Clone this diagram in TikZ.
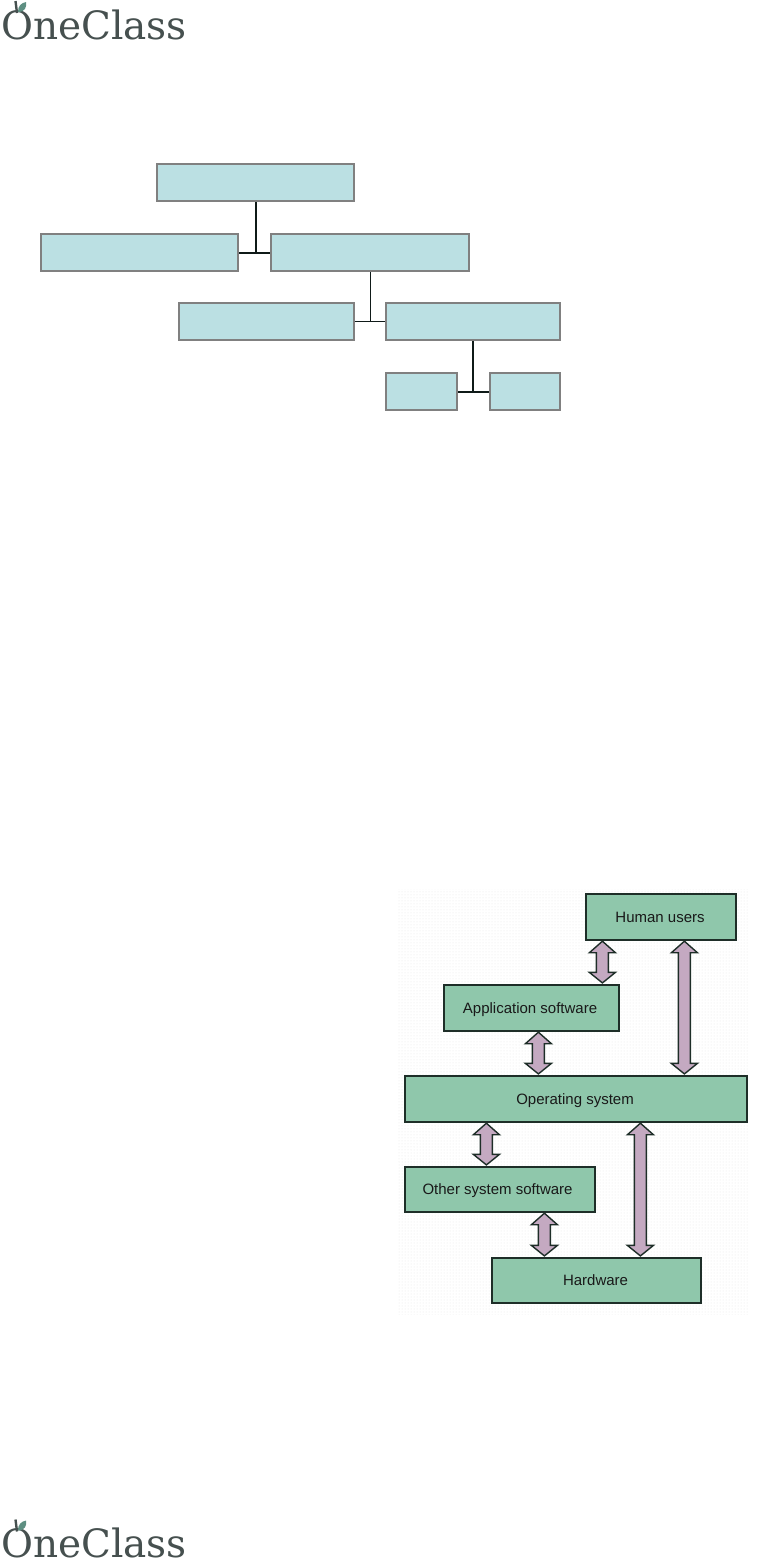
\documentclass[tikz,border=0pt]{standalone}
\usepackage{fontspec}
\setmainfont{Liberation Sans}
\newfontfamily\logofont{DejaVu Serif}
\usetikzlibrary{patterns,calc}
\definecolor{bluefill}{HTML}{BBE0E3}
\definecolor{blueedge}{HTML}{808080}
\definecolor{linkdark}{HTML}{0F1A18}
\definecolor{greenfill}{HTML}{8FC7AB}
\definecolor{greenedge}{HTML}{1E2E28}
\definecolor{mauve}{HTML}{C4A9C1}
\definecolor{logogrey}{HTML}{46504F}
\definecolor{logoleaf}{HTML}{5E8F82}
\tikzset{
  x=1pt,y=-1pt,
  bluebox/.style={draw=blueedge,fill=bluefill,line width=1.8pt,inner sep=0pt},
  greenbox/.style={draw=greenedge,fill=greenfill,line width=1.3pt,inner sep=0pt,text=black!90,text height=11pt,text depth=1pt,font=\fontsize{15}{16}\selectfont},
  heavylink/.style={draw=linkdark,line width=2pt},
  thinlink/.style={draw=linkdark,line width=1pt},
  bigarrow/.style={draw=greenedge,fill=mauve,line width=1.4pt,line join=miter},
  applogo/.pic={
    \node[anchor=base west,inner sep=0pt,text=logogrey,font=\fontsize{39}{40}\logofont] (word) at (1,39) {OneClass};
    \fill[logoleaf] (18,12) .. controls (18,6) and (21,3) .. (26,2) .. controls (27,7) and (25,12) .. (18,12) -- cycle;
    \draw[logogrey,line width=2.4pt] (15.5,1) -- (17,13);
  }
}
\newcommand{\boxat}[7]{\node[#1,minimum width=#6-#4,minimum height=#7-#5,anchor=north west] (#2) at (#4,#5) {#3};}
\newcommand{\duplex}[3]{%
  \draw[bigarrow] let \p1=(#2.south),\p2=(#3.north) in
    (#1,\y1-0.5pt) -- (#1+13,\y1-12pt) -- (#1+6,\y1-12pt) -- (#1+6,\y2+12pt) -- (#1+13,\y2+12pt)
    -- (#1,\y2+1.5pt) -- (#1-13,\y2+12pt) -- (#1-6,\y2+12pt) -- (#1-6,\y1-12pt) -- (#1-13,\y1-12pt) -- cycle;}
\begin{document}
\begin{tikzpicture}
\useasboundingbox (0,0) rectangle (756,1561);
\pic (top) at (0,0) {applogo};
\pic (bottom) at (0,1518.5) {applogo};
\begin{scope}[xshift=-0.6pt,yshift=0.6pt]
% first figure
\boxat{bluebox}{a}{}{156.5}{164}{354}{201}
\boxat{bluebox}{b}{}{40.5}{234}{238}{271}
\boxat{bluebox}{c}{}{271}{234}{468.5}{271}
\boxat{bluebox}{d}{}{179}{303}{353.5}{340}
\boxat{bluebox}{e}{}{385.5}{303}{560}{340}
\boxat{bluebox}{f}{}{385.5}{373}{457}{410}
\boxat{bluebox}{g}{}{489.5}{373}{560}{410}
\draw[heavylink] (a.south) -- (a.south |- b.east);
\draw[heavylink] (b.east) -- (c.west);
\draw[thinlink] (c.south) -- (c.south |- d.east);
\draw[thinlink] (d.east) -- (e.west);
\draw[heavylink] (e.south) -- (e.south |- f.east);
\draw[heavylink] (f.east) -- (g.west);
% second figure
\fill[pattern=dots,pattern color=black!10] (398,890) rectangle (750,1315);
\boxat{greenbox}{human}{\hspace*{-2pt}Human users}{586}{894}{736}{940}
\boxat{greenbox}{app}{\hspace*{-3pt}Application software}{444}{985}{619}{1031}
\boxat{greenbox}{os}{\hspace*{-2pt}Operating system}{405}{1076}{747}{1122}
\boxat{greenbox}{other}{\hspace*{-5pt}Other system software}{405}{1167}{595}{1212}
\boxat{greenbox}{hw}{\hspace*{-2pt}Hardware}{492}{1258}{701}{1303}
\duplex{603}{human}{app}
\duplex{539}{app}{os}
\duplex{685}{human}{os}
\duplex{487}{os}{other}
\duplex{545}{other}{hw}
\duplex{641}{os}{hw}
\end{scope}
\end{tikzpicture}
\end{document}
